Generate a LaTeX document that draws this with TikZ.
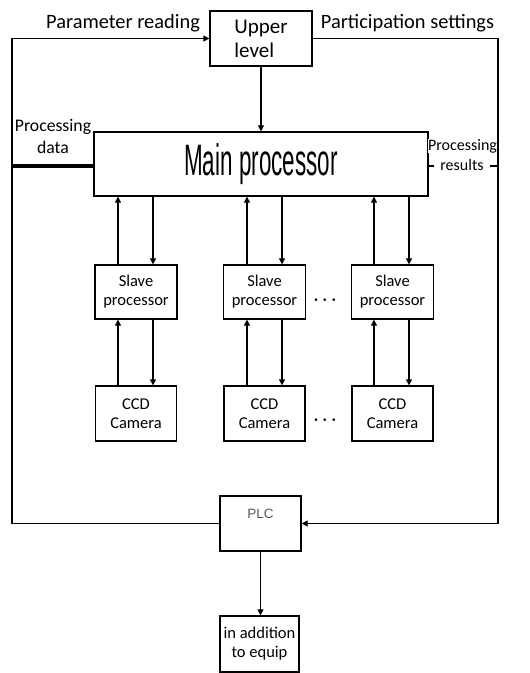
\documentclass[tikz,border=0pt]{standalone}
\usepackage{fontspec}
\setmainfont{Carlito}
\newfontfamily\arialf{Liberation Sans}
\usetikzlibrary{arrows.meta}
\tikzset{
  box/.style={draw, line width=1.3pt, inner sep=0pt, align=center},
  conn/.style={line width=1.2pt},
  arr/.style={conn, -{Triangle[length=6pt,width=6pt]}},
  lbl/.style={inner sep=0pt, align=center},
  small/.style={font=\fontsize{16.5}{19}\selectfont}
}
\begin{document}
\begin{tikzpicture}[x=1pt,y=-1pt]
\useasboundingbox (0,0) rectangle (530,673);
% boxes
\node[box, minimum width=102pt, minimum height=55pt, font=\fontsize{21}{24}\selectfont, align=left] (upper) at (261,38.5) {Upper\\level};
\node[box, minimum width=334pt, minimum height=64pt] (main) at (261,164) {\arialf\fontsize{44}{44}\selectfont\scalebox{0.51}[1]{Main processor}};
\foreach \n/\x in {1/136,2/264.5,3/392.5}{
  \node[box, small, minimum width=82pt, minimum height=54pt] (s\n) at (\x,292) {Slave\\processor};
  \node[box, small, minimum width=81pt, minimum height=55pt] (c\n) at (\x,413.5) {CCD\\Camera};
}
\node[box, minimum width=81pt, minimum height=55pt] (plc) at (260.5,523.5) {};
\node[lbl, text=black!65, font=\arialf\fontsize{13.5}{13.5}\selectfont] (plct) at ([yshift=10pt]plc.center) {PLC};
\node[box, small, minimum width=79pt, minimum height=56pt] (equip) at (259.5,644) {in addition\\to equip};
% labels
\node[lbl, font=\fontsize{20.4}{22}\selectfont] (pread) at (123,23) {Parameter reading};
\node[lbl, font=\fontsize{20.4}{22}\selectfont] (pset) at (407.5,23) {Participation settings};
\node[lbl, font=\fontsize{17.7}{22}\selectfont] (pdata) at (53,136) {Processing\\data};
\node[lbl, font=\fontsize{19}{19}\selectfont\boldmath] (dots1) at (325,300) {$\cdots$};
\node[lbl, font=\fontsize{19}{19}\selectfont\boldmath] (dots2) at (325,420) {$\cdots$};
% loop coordinates
\coordinate (tl) at (12,38.5);
\coordinate (bl) at (12,523.5);
\coordinate (tr) at (498,38.5);
\coordinate (br) at (498,523.5);
\coordinate (pd) at (12,166);
\coordinate (pr) at (498,166);
% connectors
\draw[arr] (plc.west) -- (bl) -- (tl) -- (upper.west);
\draw[arr] (upper.east) -- (tr) -- (br) -- (plc.east);
\draw[line width=4.5pt] (pd) -- (pd -| main.west);
\draw[conn] (pr -| main.east) -- (pr);
\node[lbl, font=\fontsize{16}{18}\selectfont, fill=white, inner xsep=6pt, inner ysep=1pt] (pres) at (462,165) {results};
\node[lbl, font=\fontsize{16}{18}\selectfont, fill=white] (pproc) at (462.5,146) {Processing};
\draw[arr] (upper.south) -- (main.north);
\foreach \n/\a/\b in {1/-18/17,2/-17.5/17.5,3/-18.5/16.5}{
  \draw[arr] ([xshift=\a pt]s\n.north) -- ([xshift=\a pt]s\n.north |- main.south);
  \draw[arr] ([xshift=\b pt]s\n.north |- main.south) -- ([xshift=\b pt]s\n.north);
  \draw[arr] ([xshift=\a pt]c\n.north) -- ([xshift=\a pt]s\n.south);
  \draw[arr] ([xshift=\b pt]s\n.south) -- ([xshift=\b pt]c\n.north);
}
\draw[arr] (plc.south) -- (plc.south |- equip.north);
\end{tikzpicture}
\end{document}
